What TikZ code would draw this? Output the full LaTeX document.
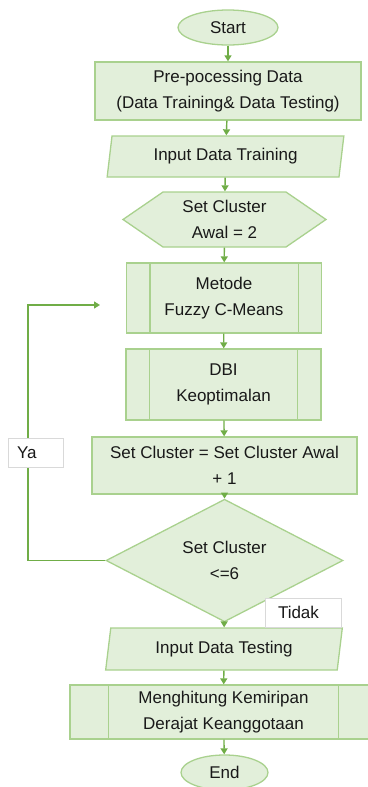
\documentclass[tikz,border=0pt]{standalone}
\usepackage{fontspec}
\setmainfont{Liberation Sans}
\usepackage{tikz}
\usetikzlibrary{arrows.meta, positioning, shapes.geometric, shapes.symbols}
\definecolor{boxfill}{RGB}{226,239,218}
\definecolor{boxline}{RGB}{169,209,142}
\definecolor{flowgreen}{RGB}{112,173,71}

\begin{document}
\begin{tikzpicture}[x=1pt, y=-1pt, font=\fontsize{17}{26}\selectfont,
    b/.style={draw=boxline, fill=boxfill, line width=1.3pt, align=center, inner sep=0pt, text=black!90},
    term/.style={b, ellipse, minimum width=100pt, minimum height=35pt},
    proc/.style={b, rectangle, minimum width=266pt, minimum height=58pt},
    sub/.style={b, rectangle, minimum width=195pt, minimum height=71pt},
    io/.style={b, trapezium, trapezium left angle=79, trapezium right angle=101, trapezium stretches=true, minimum width=237pt, minimum height=41pt},
    hexa/.style={b, signal, signal to=west and east, signal pointer angle=69, minimum width=203pt, minimum height=55pt},
    dec/.style={b, diamond, minimum width=237pt, minimum height=99pt},
    lbl/.style={draw=black!15, fill=white, line width=0.6pt, inner sep=0pt, minimum height=29pt, align=left, text=black!90},
    arr/.style={-{Triangle[length=6pt, width=7pt]}, draw=flowgreen, line width=1.4pt}]
    \useasboundingbox (0,0) rectangle (367,787);

    \node[term] (st) at (228,27.5) {Start};
    \node[proc] (pre) at (228,91) {Pre-pocessing Data\\(Data Training\& Data Testing)};
    \node[io] (intr) at (225.5,156.5) {Input Data Training};
    \node[hexa] (awal) at (224.5,219.5) {Set Cluster\\Awal = 2};
    \node[sub, minimum height=70pt] (fcm) at (224,298) {Metode\\Fuzzy C-Means};
    \node[sub] (dbi) at (223.5,384.5) {DBI\\Keoptimalan};
    \node[proc, minimum width=265pt, minimum height=57pt] (inc) at (224.5,465.5) {Set Cluster = Set Cluster Awal\\+ 1};
    \node[dec] (cek) at (224.5,560.5) {Set Cluster\\<=6};
    \node[io, minimum height=42pt] (ints) at (224,649) {Input Data Testing};
    \node[sub, minimum width=307pt, minimum height=54pt] (mk) at (223.5,712) {Menghitung Kemiripan\\Derajat Keanggotaan};
    \node[term, minimum width=87pt] (en) at (224.5,772.5) {End};

    % garis dalam proses terdefinisi
    \foreach \n/\d in {fcm/24, dbi/24, mk/39} {
      \draw[boxline, line width=1.3pt] ([xshift=\d pt]\n.north west) -- ([xshift=\d pt]\n.south west);
      \draw[boxline, line width=1.3pt] ([xshift=-\d pt]\n.north east) -- ([xshift=-\d pt]\n.south east);
    }

    \draw[arr] (st)--(pre); \draw[arr] (pre)--(intr); \draw[arr] (intr)--(awal);
    \draw[arr] (awal)--(fcm); \draw[arr] (fcm)--(dbi); \draw[arr] (dbi)--(inc);
    \draw[arr] (inc)--(cek); \draw[arr] (cek)--(ints); \draw[arr] (ints)--(mk);
    \draw[arr] (mk)--(en);

    % loop kembali
    \coordinate (lp) at (28,305);
    \coordinate (back) at (100,305);
    \draw[arr] (cek.west) -| (lp) -- (back);

    \node[lbl, minimum width=55pt, text width=37pt] (ya) at (35.5,452.5) {Ya};
    \node[lbl, minimum width=76pt, text width=50pt] (tdk) at (303,612.5) {Tidak};
  \end{tikzpicture}
\end{document}
